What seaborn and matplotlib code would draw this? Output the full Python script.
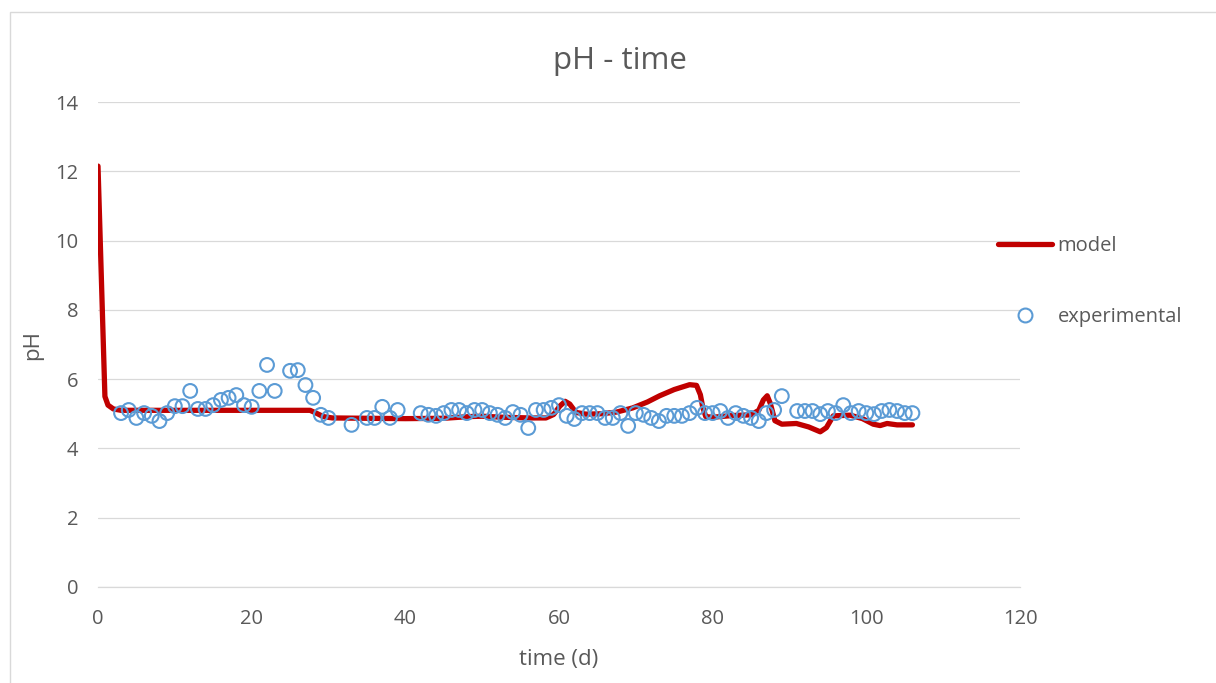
import matplotlib
matplotlib.use("Agg")
import matplotlib.pyplot as plt
import seaborn as sns
import pandas as pd
from matplotlib.lines import Line2D
from matplotlib.patches import Rectangle

# ---- data ----
model_t = [0, 0.9, 1.3, 2.0, 3.0, 10, 20, 27.6, 28.4, 29.3, 30.5, 35, 40, 45,
           48.4, 50, 52.7, 56.2, 58.3, 59.3, 60.1, 60.8, 61.4, 62.2, 63.5, 65.5,
           67.5, 69.6, 71.5, 73.1, 75.0, 77.0, 77.9, 78.4, 78.7, 79.1, 80, 82.6,
           85.0, 86.0, 86.6, 87.1, 87.5, 88.1, 89.0, 90.9, 92.5, 94.0, 94.8, 95.7,
           97.9, 99.5, 100.9, 101.8, 102.7, 104.0, 106.0]
model_ph = [12.15, 5.5, 5.25, 5.14, 5.1, 5.1, 5.1, 5.1, 5.02, 4.92, 4.88, 4.87, 4.86, 4.87,
            4.92, 4.93, 4.9, 4.88, 4.88, 4.98, 5.22, 5.36, 5.28, 5.04, 4.99, 5.0,
            5.05, 5.17, 5.34, 5.52, 5.7, 5.84, 5.82, 5.55, 5.2, 4.92, 4.9, 4.95,
            4.97, 5.1, 5.4, 5.52, 5.3, 4.8, 4.7, 4.72, 4.62, 4.48, 4.6, 4.94,
            4.96, 4.86, 4.7, 4.66, 4.72, 4.68, 4.68]

exp_t = [3, 4, 5, 6, 7, 8, 9, 10, 11, 12, 13, 14, 15, 16, 17, 18, 19, 20, 21, 22, 23,
         25, 26, 27, 28, 29, 30, 33, 35, 36, 37, 38, 39, 42, 43, 44, 45, 46, 47, 48,
         49, 50, 51, 52, 53, 54, 55, 56, 57, 58, 59, 60, 61, 62, 63, 64, 65, 66, 67,
         68, 69, 70, 71, 72, 73, 74, 75, 76, 77, 78, 79, 80, 81, 82, 83, 84, 85, 86,
         87, 88, 89, 91, 92, 93, 94, 95, 96, 97, 98, 99, 100, 101, 102, 103, 104,
         105, 106]
exp_ph = [5.02, 5.11, 4.88, 5.02, 4.94, 4.79, 5.02, 5.22, 5.22, 5.66, 5.14, 5.14, 5.25,
          5.40, 5.46, 5.54, 5.25, 5.20, 5.66, 6.41, 5.66, 6.24, 6.26, 5.83, 5.46, 4.97,
          4.88, 4.68, 4.88, 4.88, 5.20, 4.88, 5.11, 5.02, 4.97, 4.94, 5.02, 5.11, 5.11,
          5.02, 5.11, 5.11, 5.02, 4.97, 4.88, 5.05, 4.97, 4.59, 5.11, 5.11, 5.17, 5.25,
          4.94, 4.85, 5.02, 5.02, 5.02, 4.88, 4.88, 5.02, 4.65, 5.02, 4.97, 4.88, 4.79,
          4.94, 4.94, 4.94, 5.02, 5.17, 5.02, 5.02, 5.08, 4.88, 5.02, 4.94, 4.88, 4.79,
          5.02, 5.11, 5.51, 5.08, 5.08, 5.08, 4.99, 5.08, 5.02, 5.25, 5.02, 5.08, 5.02,
          4.99, 5.08, 5.11, 5.08, 5.02, 5.02]

x_ticks = [0, 20, 40, 60, 80, 100, 120]
y_ticks = [0, 2, 4, 6, 8, 10, 12, 14]
title = "pH - time"
x_label = "time (d)"
y_label = "pH"
legend_labels = ["model", "experimental"]

# ---- style ----
sns.set_theme(style="white")
plt.rcParams["font.family"] = ["Open Sans", "DejaVu Sans"]
txt = "#595959"
grid = "#D9D9D9"
red = "#C00000"
blue = "#5B9BD5"

fig = plt.figure(figsize=(12.16, 6.83), dpi=100)
W, H = 1216, 683
ax = fig.add_axes([98 / W, 1 - 587 / H, (1020 - 98) / W, (587 - 102) / H])

model_df = pd.DataFrame({"t": model_t, "pH": model_ph})
exp_df = pd.DataFrame({"t": exp_t, "pH": exp_ph})

sns.lineplot(data=model_df, x="t", y="pH", sort=False, estimator=None, ax=ax,
             color=red, linewidth=3.8, solid_joinstyle="round",
             solid_capstyle="round", zorder=3)
sns.scatterplot(data=exp_df, x="t", y="pH", ax=ax, marker="o", s=98,
                facecolor="none", edgecolor=blue, linewidth=1.5, zorder=4)

ax.set_xlim(0, 120)
ax.set_ylim(0, 14)
ax.set_xticks(x_ticks)
ax.set_yticks(y_ticks)
ax.tick_params(axis="both", length=0, labelsize=14.5, labelcolor=txt)
ax.tick_params(axis="x", pad=16)
ax.tick_params(axis="y", pad=14)
ax.yaxis.grid(True, color=grid, linewidth=0.9)
ax.xaxis.grid(False)
for s in ["top", "right", "left"]:
    ax.spines[s].set_visible(False)
ax.spines["bottom"].set_color(grid)
ax.spines["bottom"].set_linewidth(0.9)
ax.set_xlabel(x_label, fontsize=16, color=txt, labelpad=14)
ax.set_ylabel(y_label, fontsize=16, color=txt, labelpad=9)

fig.text(620 / W, 1 - 61 / H, title, fontsize=22.5, color=txt, ha="center", va="center")

handles = [
    Line2D([0], [0], color=red, linewidth=3.8, solid_capstyle="round"),
    Line2D([0], [0], color=blue, marker="o", linestyle="none", markersize=10,
           markerfacecolor="none", markeredgewidth=1.5),
]
fig.legend(handles, legend_labels, loc="upper left",
           bbox_to_anchor=(998 / W, 1 - 236 / H), frameon=False, fontsize=14.5,
           labelcolor=txt, handlelength=2.7, handletextpad=0.25,
           labelspacing=2.55, borderpad=0, borderaxespad=0)

# chart border
fig.patches.append(Rectangle((10 / W, -0.01), 1.02, 1 - 12 / H + 0.01,
                             transform=fig.transFigure, fill=False,
                             edgecolor=grid, linewidth=1.0))

fig.savefig("out.png", dpi=100)
